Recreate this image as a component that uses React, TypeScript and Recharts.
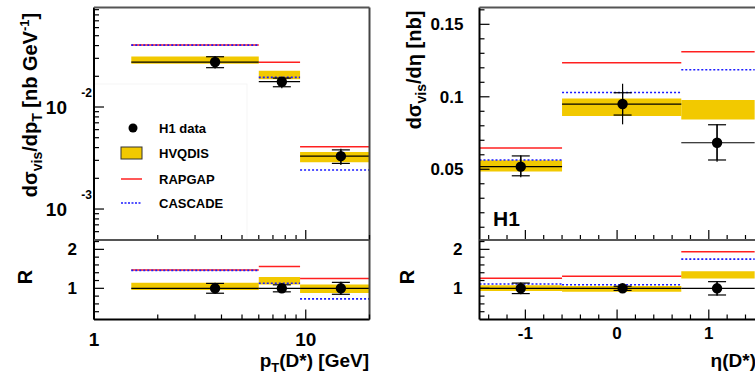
import React from 'react';
import { ComposedChart, XAxis, YAxis, Scatter, ErrorBar, ReferenceArea, ReferenceLine } from 'recharts';

const W = 755;
const H = 379;
const FONT = '"Liberation Sans", Arial, Helvetica, sans-serif';
const BAND = '#f2c900';

// ---- p_T(D*) distribution ----
const ptEdges = [1.5, 6, 9.4, 20];
const ptCentres = [3.73, 7.71, 14.65];
const ptData = [0.0276, 0.0177, 0.0033];
const ptTotUp = [0.0316, 0.0195, 0.0039];
const ptTotDn = [0.0239, 0.0153, 0.0027];
const ptStatUp = [0.0311, 0.0192, 0.0038];
const ptStatDn = [0.0243, 0.0158, 0.0028];
const ptHvqLo = [0.0265, 0.0187, 0.00287];
const ptHvqHi = [0.0313, 0.0227, 0.00362];
const ptRapgap = [0.0405, 0.0274, 0.00408];
const ptCascade = [0.0404, 0.0195, 0.00241];

// ratios to data
const ptRErr = [0.14, 0.1, 0.17];
const ptRHvqLo = [0.96, 1.1, 0.88];
const ptRHvqHi = [1.14, 1.29, 1.1];
const ptRRapgap = [1.47, 1.56, 1.25];
const ptRCascade = [1.46, 1.13, 0.73];

// ---- eta(D*) distribution ----
const etaEdges = [-1.5, -0.6, 0.7, 1.5];
const etaCentres = [-1.05, 0.06, 1.09];
const etaData = [0.0518, 0.095, 0.0683];
const etaTotUp = [0.0596, 0.109, 0.081];
const etaTotDn = [0.0445, 0.081, 0.0552];
const etaStatUp = [0.0592, 0.1028, 0.0807];
const etaStatDn = [0.0455, 0.0874, 0.0564];
const etaHvqLo = [0.0484, 0.0867, 0.0844];
const etaHvqHi = [0.0562, 0.0989, 0.0977];
const etaRapgap = [0.0646, 0.1234, 0.131];
const etaCascade = [0.0564, 0.103, 0.1187];

const etaRErr = [0.15, 0.06, 0.19];
const etaRHvqLo = [0.93, 0.91, 1.25];
const etaRHvqHi = [1.08, 1.06, 1.44];
const etaRRapgap = [1.26, 1.31, 1.94];
const etaRCascade = [1.11, 1.09, 1.75];

// ---- axis ticks ----
const ptTicks = [1, 2, 3, 4, 5, 6, 7, 8, 9, 10, 20];
const ptMajor = [1, 10];
const xsLogTicks = [0.0005, 0.0006, 0.0007, 0.0008, 0.0009, 0.001, 0.002, 0.003, 0.004, 0.005, 0.006, 0.007, 0.008, 0.009, 0.01, 0.02, 0.03, 0.04, 0.05, 0.06, 0.07, 0.08, 0.09];
const xsLogMajor = [0.001, 0.01];
const xsLogLabels: Record<string, string> = { '0.001': '-3', '0.01': '-2' };
const etaTicks = [-1.4, -1.2, -1, -0.8, -0.6, -0.4, -0.2, 0, 0.2, 0.4, 0.6, 0.8, 1, 1.2, 1.4];
const etaMajor = [-1, 0, 1];
const xsLinTicks = [0.01, 0.02, 0.03, 0.04, 0.05, 0.06, 0.07, 0.08, 0.09, 0.1, 0.11, 0.12, 0.13, 0.14, 0.15, 0.16];
const xsLinMajor = [0.05, 0.1, 0.15];
const rTicks = [0.4, 0.6, 0.8, 1, 1.2, 1.4, 1.6, 1.8, 2, 2.2];
const rMajor = [1, 2];

const near = (a: number, list: number[]) => list.some(m => Math.abs(m - a) < 1e-9);

function BottomTick({ majors, showLabel, fs, dy }: { majors: number[]; showLabel: boolean; fs?: number; dy?: number }) {
    return (p: any) => {
        const v = p.payload.value;
        const big = near(v, majors);
        return (
            <g>
                <line x1={p.x} x2={p.x} y1={p.y} y2={p.y - (big ? 10 : 5)} stroke="#000" strokeWidth={1.2} />
                {showLabel && big && (
                    <text x={p.x} y={p.y + (dy || 20)} textAnchor="middle" fontSize={fs} fontWeight="bold" fontFamily={FONT} fill="#000">{String(v)}</text>
                )}
            </g>
        );
    };
}

function LeftTick({ majors, fs, gap, fmt }: { majors: number[]; fs: number; gap: number; fmt: (v: number) => string }) {
    return (p: any) => {
        const v = p.payload.value;
        const big = near(v, majors);
        return (
            <g>
                <line x1={p.x} x2={p.x + (big ? 10 : 5)} y1={p.y} y2={p.y} stroke="#000" strokeWidth={1.2} />
                {big && (
                    <text x={p.x - gap} y={p.y} dy="0.36em" textAnchor="end" fontSize={fs} fontWeight="bold" fontFamily={FONT} fill="#000">{fmt(v)}</text>
                )}
            </g>
        );
    };
}

function LogYTick(p: any) {
    const v = p.payload.value;
    const big = near(v, xsLogMajor);
    return (
        <g>
            <line x1={p.x} x2={p.x + (big ? 10 : 5)} y1={p.y} y2={p.y} stroke="#000" strokeWidth={1.2} />
            {big && (
                <g fontWeight="bold" fontFamily={FONT} fill="#000">
                    <text x={p.x - 27} y={p.y} dy="0.36em" textAnchor="end" fontSize={19}>10</text>
                    <text x={p.x - 2} y={p.y - 10} textAnchor="end" fontSize={12}>{xsLogLabels[String(v)]}</text>
                </g>
            )}
        </g>
    );
}

const dot = (p: any) => <circle cx={p.cx} cy={p.cy} r={5.2} fill="#000" />;

function pointsOf(centres: number[], vals: number[], up: number[], dn: number[], sUp: number[], sDn: number[], edges: number[]) {
    return centres.map((c, i) => ({
        x: c,
        y: vals[i],
        ey: [vals[i] - dn[i], up[i] - vals[i]],
        es: [vals[i] - sDn[i], sUp[i] - vals[i]],
        ex: [c - edges[i], edges[i + 1] - c],
    }));
}

type PanelProps = {
    box: { left: number; right: number; top: number; bottom: number };
    xScale: 'log' | 'linear';
    xDomain: [number, number];
    yScale: 'log' | 'linear';
    yDomain: [number, number];
    xTicks: number[];
    xTick: any;
    yTicks: number[];
    yTick: any;
    edges: number[];
    hvqLo: number[];
    hvqHi: number[];
    rapgap: number[];
    cascade: number[];
    points: any[];
    showRight: boolean;
};

function Panel(pp: PanelProps) {
    const { box, edges } = pp;
    // axes get 1px of room (recharts skips axes of zero size), taken off the margins
    return (
        <ComposedChart
            width={W}
            height={H}
            margin={{ left: box.left - 1, right: W - box.right, top: box.top, bottom: H - box.bottom - 1 }}
        >
            <XAxis type="number" dataKey="x" scale={pp.xScale} domain={pp.xDomain} allowDataOverflow ticks={pp.xTicks} interval={0}
                height={1} tickSize={0} tickMargin={0} axisLine={false} tick={pp.xTick} />
            <YAxis type="number" dataKey="y" scale={pp.yScale} domain={pp.yDomain} allowDataOverflow ticks={pp.yTicks} interval={0}
                width={1} tickSize={0} tickMargin={0} axisLine={false} tick={pp.yTick} />
            {pp.hvqLo.map((lo, i) => (
                <ReferenceArea key={'h' + i} x1={edges[i]} x2={edges[i + 1]} y1={lo} y2={pp.hvqHi[i]} fill={BAND} fillOpacity={1} stroke="none" ifOverflow="hidden" />
            ))}
            {pp.rapgap.map((v, i) => (
                <ReferenceLine key={'r' + i} segment={[{ x: edges[i], y: v }, { x: edges[i + 1], y: v }]} stroke="#ff2020" strokeWidth={1.5} />
            ))}
            {pp.cascade.map((v, i) => (
                <ReferenceLine key={'c' + i} segment={[{ x: edges[i], y: v }, { x: edges[i + 1], y: v }]} stroke="#1a1aff" strokeWidth={1.6} strokeDasharray="2 2" />
            ))}
            <Scatter data={pp.points} isAnimationActive={false} shape={dot}>
                <ErrorBar dataKey="ex" direction="x" width={0} stroke="#000" strokeWidth={1.2} />
                <ErrorBar dataKey="ey" direction="y" width={0} stroke="#000" strokeWidth={1.2} />
                <ErrorBar dataKey="es" direction="y" width={9} stroke="#000" strokeWidth={1.2} />
            </Scatter>
            <ReferenceLine x={pp.xDomain[0]} stroke="#000" strokeWidth={2} />
            <ReferenceLine y={pp.yDomain[0]} stroke="#000" strokeWidth={2} />
            <ReferenceLine y={pp.yDomain[1]} stroke="#555" strokeWidth={2} />
            {pp.showRight && <ReferenceLine x={pp.xDomain[1]} stroke="#444" strokeWidth={2} />}
        </ComposedChart>
    );
}

const layer: React.CSSProperties = { position: 'absolute', left: 0, top: 0 };

const LEFT = { left: 94, right: 369.5 };
const RIGHT = { left: 479.5, right: 756.5 };
const TOP = { top: 7.5, bottom: 240 };
const BOT = { top: 240, bottom: 319.5 };

const ones = [1, 1, 1];

export default function App() {
    const ptPts = pointsOf(ptCentres, ptData, ptTotUp, ptTotDn, ptStatUp, ptStatDn, ptEdges);
    const etaPts = pointsOf(etaCentres, etaData, etaTotUp, etaTotDn, etaStatUp, etaStatDn, etaEdges);
    const ptRPts = pointsOf(ptCentres, ones, ptRErr.map(e => 1 + e), ptRErr.map(e => 1 - e), ptRErr.map(e => 1 + e * 0.9), ptRErr.map(e => 1 - e * 0.9), ptEdges);
    const etaRPts = pointsOf(etaCentres, ones, etaRErr.map(e => 1 + e), etaRErr.map(e => 1 - e), etaRErr.map(e => 1 + e * 0.9), etaRErr.map(e => 1 - e * 0.9), etaEdges);

    const rTick = LeftTick({ majors: rMajor, fs: 17, gap: 17, fmt: v => String(v) });

    return (
        <div style={{ position: 'absolute', left: 0, top: 0, width: W, height: H, background: '#fff', overflow: 'hidden' }}>
            <svg style={layer} width={W} height={H}>
                <rect x={94} y={84} width={153} height={156} fill="none" stroke="#f5f5f5" />
            </svg>
            <div style={layer}>
                <Panel box={{ ...LEFT, ...TOP }} xScale="log" xDomain={[1, 20]} yScale="log" yDomain={[0.000497, 0.0945]}
                    xTicks={ptTicks} xTick={BottomTick({ majors: ptMajor, showLabel: false })}
                    yTicks={xsLogTicks} yTick={LogYTick}
                    edges={ptEdges} hvqLo={ptHvqLo} hvqHi={ptHvqHi} rapgap={ptRapgap} cascade={ptCascade} points={ptPts} showRight />
            </div>
            <div style={layer}>
                <Panel box={{ ...LEFT, ...BOT }} xScale="log" xDomain={[1, 20]} yScale="linear" yDomain={[0.2, 2.24]}
                    xTicks={ptTicks} xTick={BottomTick({ majors: ptMajor, showLabel: true, fs: 19, dy: 26 })}
                    yTicks={rTicks} yTick={rTick}
                    edges={ptEdges} hvqLo={ptRHvqLo} hvqHi={ptRHvqHi} rapgap={ptRRapgap} cascade={ptRCascade} points={ptRPts} showRight />
            </div>
            <div style={layer}>
                <Panel box={{ ...RIGHT, ...TOP }} xScale="linear" xDomain={[-1.5, 1.52]} yScale="linear" yDomain={[0.0012, 0.1616]}
                    xTicks={etaTicks} xTick={BottomTick({ majors: etaMajor, showLabel: false })}
                    yTicks={xsLinTicks} yTick={LeftTick({ majors: xsLinMajor, fs: 17, gap: 16, fmt: v => String(v) })}
                    edges={etaEdges} hvqLo={etaHvqLo} hvqHi={etaHvqHi} rapgap={etaRapgap} cascade={etaCascade} points={etaPts} showRight={false} />
            </div>
            <div style={layer}>
                <Panel box={{ ...RIGHT, ...BOT }} xScale="linear" xDomain={[-1.5, 1.52]} yScale="linear" yDomain={[0.2, 2.24]}
                    xTicks={etaTicks} xTick={BottomTick({ majors: etaMajor, showLabel: true, fs: 17, dy: 19 })}
                    yTicks={rTicks} yTick={rTick}
                    edges={etaEdges} hvqLo={etaRHvqLo} hvqHi={etaRHvqHi} rapgap={etaRRapgap} cascade={etaRCascade} points={etaRPts} showRight={false} />
            </div>
            <svg style={layer} width={W} height={H} fontFamily={FONT} fontWeight="bold" fill="#000">
                {/* axis titles */}
                <text transform="rotate(-90 37 105)" x={37} y={105} textAnchor="middle" fontSize={20}>
                    dσ<tspan fontSize={14} dy={5}>vis</tspan><tspan dy={-5}>/dp</tspan><tspan fontSize={14} dy={5}>T</tspan><tspan dy={-5}> [nb GeV</tspan><tspan fontSize={13} dy={-8}>-1</tspan><tspan dy={8}>]</tspan>
                </text>
                <text transform="rotate(-90 421 70)" x={421} y={70} textAnchor="middle" fontSize={20}>
                    dσ<tspan fontSize={14} dy={5}>vis</tspan><tspan dy={-5}>/dη [nb]</tspan>
                </text>
                <text transform="rotate(-90 32 277)" x={32} y={277} textAnchor="middle" fontSize={20}>R</text>
                <text transform="rotate(-90 414 277)" x={414} y={277} textAnchor="middle" fontSize={20}>R</text>
                <text x={369} y={367} textAnchor="end" fontSize={19}>
                    p<tspan fontSize={13} dy={5}>T</tspan><tspan dy={-5}>(D*) [GeV]</tspan>
                </text>
                <text x={756} y={367} textAnchor="end" fontSize={19}>η(D*)</text>
                <text x={493} y={226} fontSize={21}>H1</text>

                {/* legend */}
                <circle cx={133} cy={128} r={4.5} fill="#000" />
                <text x={159} y={133} fontSize={13}>H1 data</text>
                <rect x={121} y={147} width={21} height={12} fill={BAND} stroke="#333" strokeWidth={1} />
                <text x={159} y={158} fontSize={13}>HVQDIS</text>
                <line x1={121} x2={142} y1={179} y2={179} stroke="#ff2020" strokeWidth={1.5} />
                <text x={159} y={184} fontSize={13}>RAPGAP</text>
                <line x1={121} x2={142} y1={203} y2={203} stroke="#1a1aff" strokeWidth={1.6} strokeDasharray="2 1.5" />
                <text x={159} y={208} fontSize={13}>CASCADE</text>
            </svg>
        </div>
    );
}
